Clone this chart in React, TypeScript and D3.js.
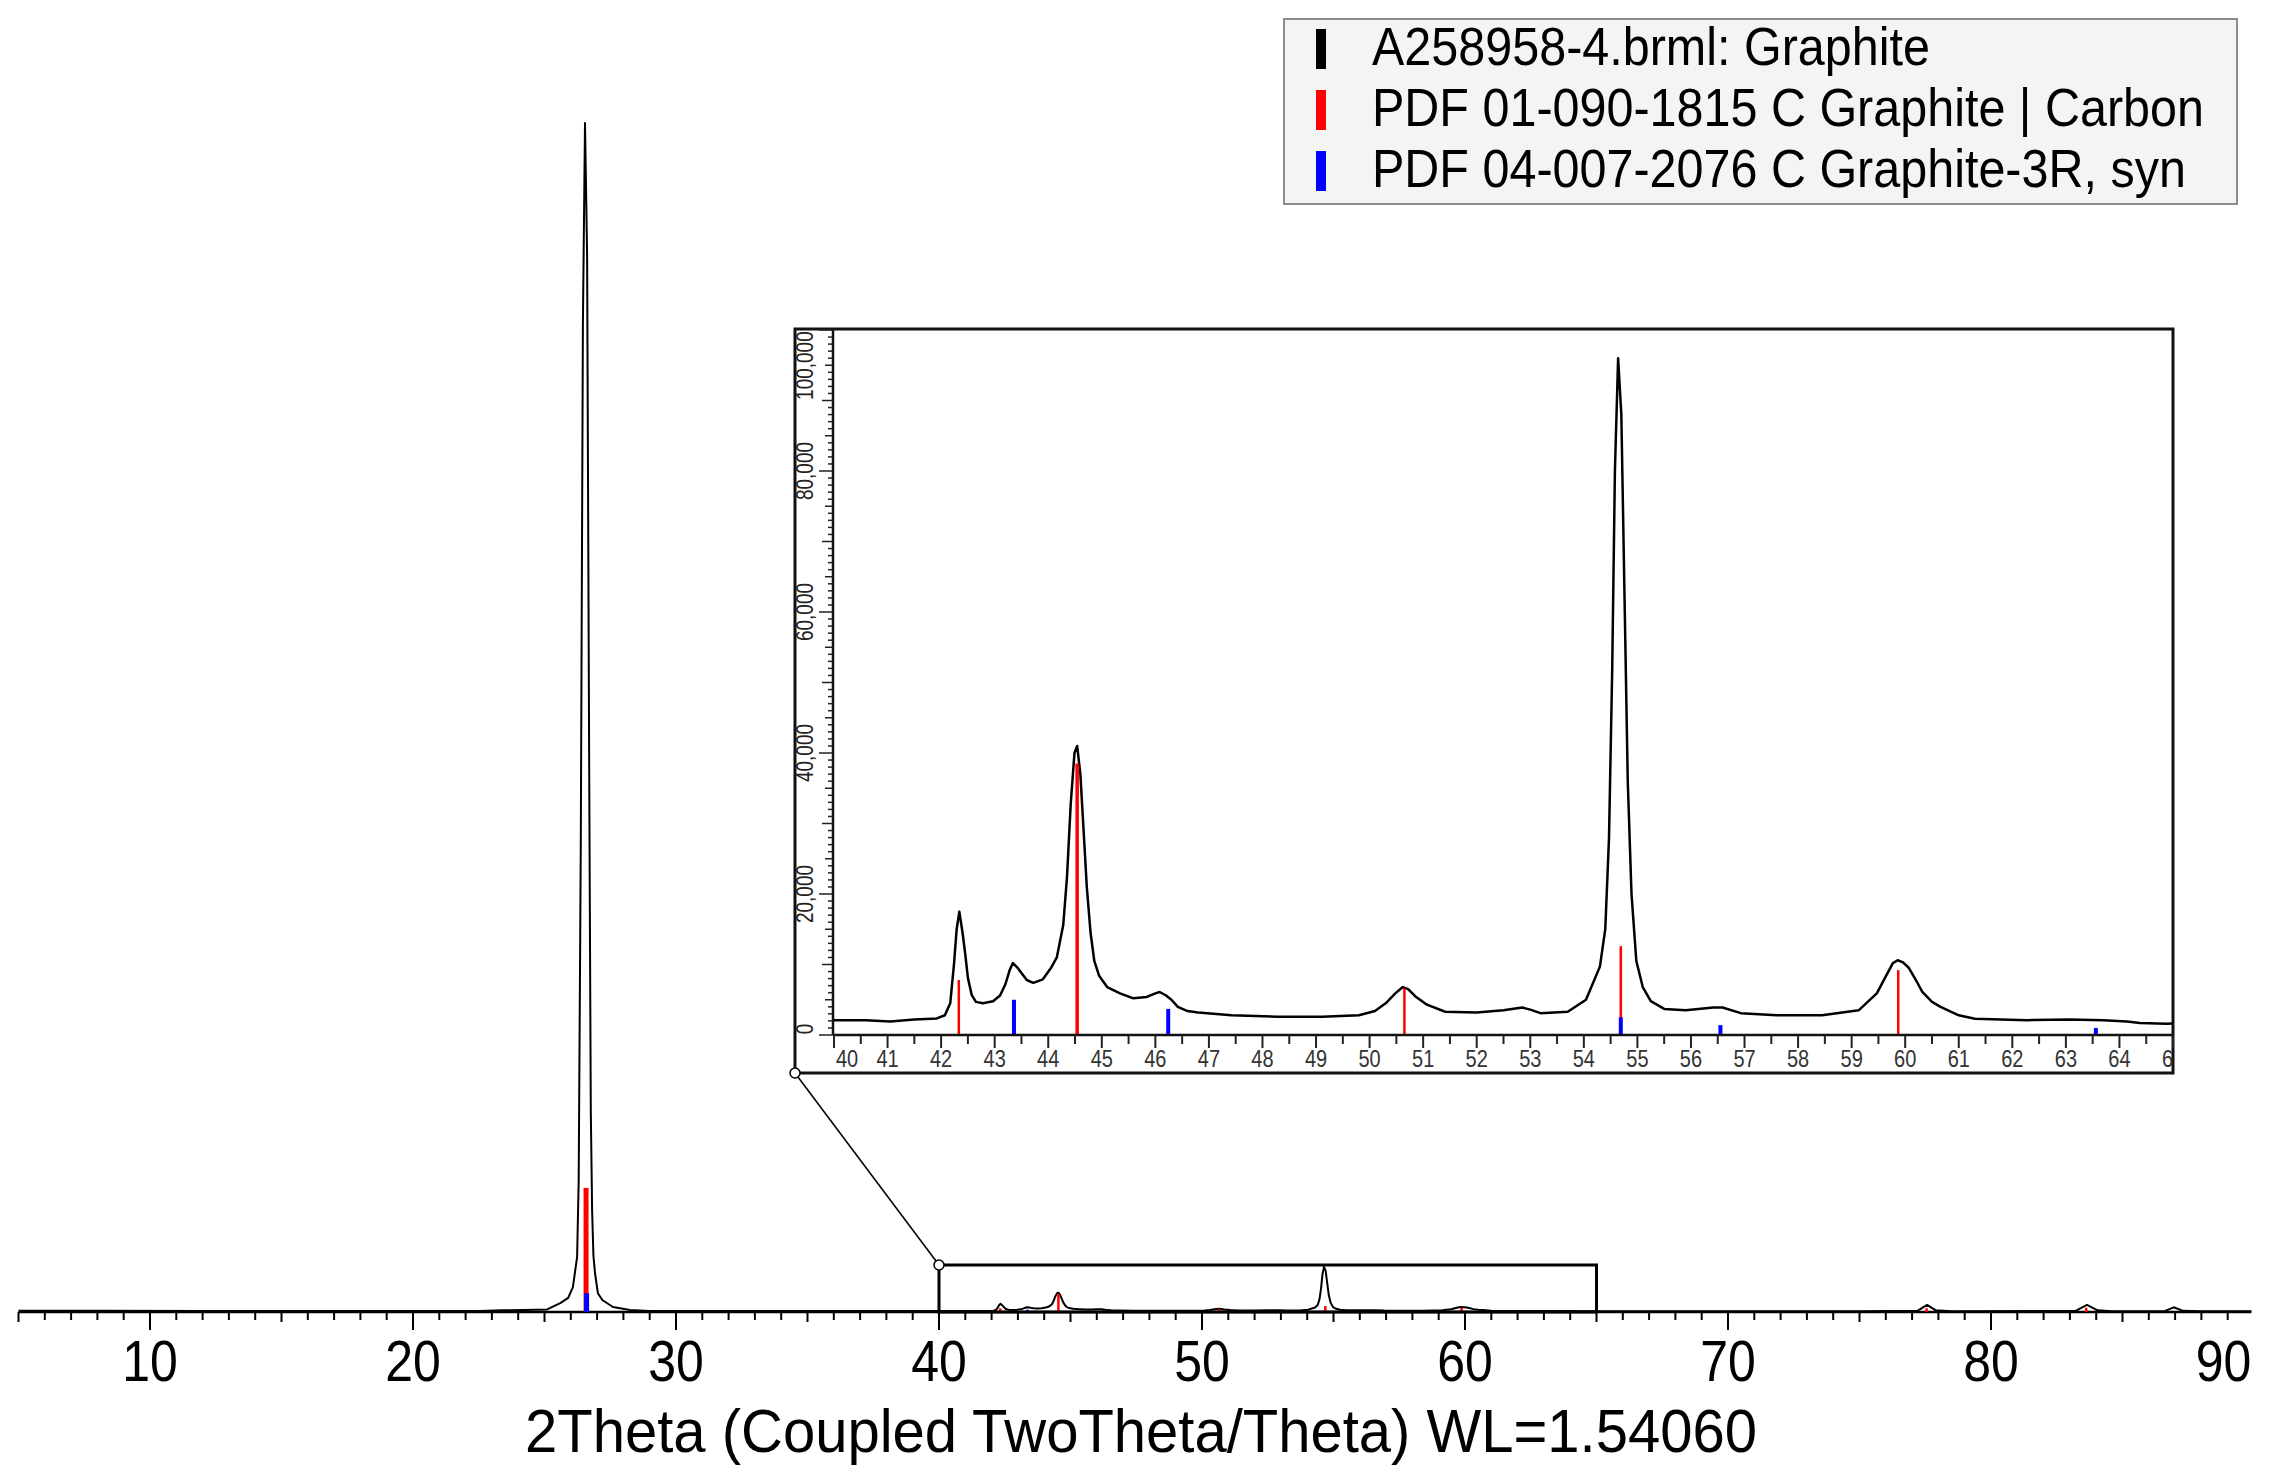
import React from 'react';
import * as d3 from 'd3';

// measured scan: 2theta (deg) and intensity (counts)
const scanTheta = [
	5.0, 8.0, 12.0, 16.0, 20.0, 22.5, 23.4, 24.2, 25.1, 25.6, 25.9, 26.08, 26.24, 26.3, 26.38, 26.46,
	26.54, 26.62, 26.7, 26.76, 26.81, 26.86, 26.92, 27.03, 27.2, 27.6, 28.25, 29.0, 32.0, 36.0, 40.0,
	40.6, 41.05, 41.5, 41.92, 42.07, 42.17, 42.24, 42.29, 42.34, 42.4, 42.45, 42.5, 42.57, 42.65, 42.78,
	42.97, 43.1, 43.2, 43.28, 43.34, 43.42, 43.5, 43.6, 43.72, 43.9, 44.05, 44.16, 44.28, 44.35, 44.42,
	44.49, 44.54, 44.6, 44.66, 44.72, 44.79, 44.86, 44.95, 45.1, 45.34, 45.59, 45.84, 46.0, 46.08, 46.2,
	46.3, 46.42, 46.6, 46.8, 47.42, 48.27, 49.12, 49.8, 50.1, 50.3, 50.48, 50.62, 50.72, 50.85, 51.07,
	51.41, 52.0, 52.5, 52.85, 53.0, 53.19, 53.7, 54.04, 54.3, 54.4, 54.47, 54.53, 54.58, 54.64, 54.7,
	54.76, 54.82, 54.89, 54.98, 55.1, 55.25, 55.5, 55.9, 56.42, 56.59, 56.93, 57.6, 58.45, 59.13, 59.47,
	59.65, 59.77, 59.86, 59.96, 60.07, 60.2, 60.32, 60.5, 60.66, 61.0, 61.3, 62.27, 63.08, 63.7, 64.14,
	64.38, 64.88, 65.5, 70.0, 75.0, 77.2, 77.57, 77.9, 78.5, 83.2, 83.65, 84.05, 84.6, 86.6, 86.95, 87.3,
	88.0, 89.9,
];
const scanCounts = [
	2600, 2400, 2200, 2000, 1900, 2000, 3500, 4200, 5500, 19000, 30000, 53000, 117000, 280000, 1000000,
	2100000, 2530000, 2250000, 1150000, 430000, 217000, 120000, 83000, 40000, 25500, 10600, 4300, 2200,
	2100, 2000, 2100, 2100, 1900, 2200, 2350, 2800, 4500, 10000, 15000, 17500, 14500, 11500, 8100, 5700,
	4700, 4500, 4800, 5600, 7200, 9200, 10200, 9600, 8800, 7800, 7400, 7900, 9500, 11000, 15600, 22400,
	32800, 40000, 41000, 37000, 29000, 21000, 14500, 10500, 8400, 6800, 5900, 5200, 5400, 5900, 6100,
	5600, 5000, 4000, 3400, 3200, 2800, 2600, 2600, 2800, 3400, 4500, 5900, 6800, 6500, 5500, 4300, 3300,
	3200, 3500, 3900, 3600, 3100, 3300, 5000, 9700, 15000, 28000, 52000, 80000, 96000, 88000, 62000,
	36000, 20000, 10500, 6800, 4800, 3700, 3500, 3900, 3900, 3100, 2800, 2800, 3500, 5900, 8500, 10200,
	10600, 10300, 9500, 7800, 6100, 4700, 4000, 2800, 2300, 2100, 2200, 2100, 1900, 1700, 1600, 1700,
	1700, 1700, 2500, 15000, 3500, 1800, 2000, 15000, 3500, 1800, 1800, 10000, 2500, 1700, 1600,
];

// reference patterns (stick positions / drawn heights)
const redTheta = [26.58, 42.33, 44.54, 50.65, 54.69, 59.87, 77.55, 83.62];
const redCounts = [264000, 7800, 38500, 6600, 12600, 9200, 8000, 9000];
const blueTheta = [26.6, 43.36, 46.24, 54.69, 56.55, 63.56];
const blueCounts = [40000, 5000, 3700, 2500, 1400, 1000];

const mainTickLabels = ['10', '20', '30', '40', '50', '60', '70', '80', '90'];
const insetXTickLabels = [
	'40', '41', '42', '43', '44', '45', '46', '47', '48', '49', '50', '51', '52',
	'53', '54', '55', '56', '57', '58', '59', '60', '61', '62', '63', '64', '65',
];
const insetYTickLabels = ['0', '20,000', '40,000', '60,000', '80,000', '100,000'];

const legendLabels = [
	'A258958-4.brml: Graphite',
	'PDF 01-090-1815 C Graphite | Carbon',
	'PDF 04-007-2076 C Graphite-3R, syn',
];
const legendColors = ['#000000', '#ff0000', '#0000ff'];

const xTitle = '2Theta (Coupled TwoTheta/Theta) WL=1.54060';

const FONT = "'Liberation Sans', Arial, sans-serif";
const W = 2274;
const H = 1475;

const xMain = d3.scaleLinear().domain([5, 90]).range([18.5, 2254]);
const yMain = d3.scaleLinear().domain([0, 2600000]).range([1312, 90]);

const frame = { left: 795, top: 329, right: 2173, bottom: 1073 };
const xIn = d3.scaleLinear().domain([40, 65]).range([834, 2173]);
const yIn = d3.scaleLinear().domain([0, 100000]).range([1035, 330]);

type Pt = { t: number; c: number };
const scan: Pt[] = scanTheta.map((t, i) => ({ t, c: scanCounts[i] }));
const reds: Pt[] = redTheta.map((t, i) => ({ t, c: redCounts[i] }));
const blues: Pt[] = blueTheta.map((t, i) => ({ t, c: blueCounts[i] }));

const Txt: React.FC<{
	x: number;
	y: number;
	size: number;
	sy?: number;
	rotate?: number;
	anchor?: string;
	fill?: string;
	children: React.ReactNode;
}> = ({ x, y, size, sy = 1, rotate = 0, anchor = 'middle', fill = '#000', children }) => (
	<text
		transform={`translate(${x},${y})${rotate ? ` rotate(${rotate})` : ''} scale(1,${sy})`}
		fontSize={size}
		fontFamily={FONT}
		textAnchor={anchor}
		fill={fill}
	>
		{children}
	</text>
);

const App: React.FC = () => {
	const mainLine = d3
		.line<Pt>()
		.x((d) => xMain(d.t))
		.y((d) => yMain(d.c))(scan) as string;
	const insetLine = d3
		.line<Pt>()
		.x((d) => xIn(d.t))
		.y((d) => yIn(d.c))(scan.filter((d) => d.t >= 36 && d.t <= 70)) as string;

	const base = yMain(0);
	const xTop = xMain.domain()[1] - 0.1;
	const mainTicks = d3.range(5, 90, 1);
	const inXTicks = d3.range(40, 65.01, 0.5);
	const inYTicks = d3.range(0, 100001, 1000);

	const boxX0 = xMain(40);
	const boxX1 = xMain(65);
	const boxY = yMain(100000);

	return (
		<svg
			width={W}
			height={H}
			viewBox={`0 0 ${W} ${H}`}
			style={{ position: 'absolute', left: 0, top: 0, background: '#fff' }}
		>
			<defs>
				<clipPath id="insetClip">
					<rect x={xIn(40)} y={frame.top} width={xIn(65) - xIn(40)} height={yIn(0) - frame.top} />
				</clipPath>
				<clipPath id="frameClip">
					<rect x={frame.left} y={frame.top} width={frame.right - frame.left} height={frame.bottom - frame.top} />
				</clipPath>
			</defs>
			<rect x={0} y={0} width={W} height={H} fill="#fff" />

			{/* main x axis */}
			<line x1={xMain(5)} x2={xMain(xTop)} y1={base} y2={base} stroke="#000" strokeWidth={2.5} />
			{mainTicks.map((v) => (
				<line
					key={`mt${v}`}
					x1={xMain(v)}
					x2={xMain(v)}
					y1={base}
					y2={base + (v % 10 === 0 ? 18 : v % 5 === 0 ? 10 : 8)}
					stroke="#000"
					strokeWidth={2}
				/>
			))}
			{mainTickLabels.map((l) => {
				const v = +l;
				const last = v >= 90;
				return (
					<Txt key={`ml${l}`} x={last ? xMain(xTop) : xMain(v)} y={1381} size={50} sy={1.14} anchor={last ? 'end' : 'middle'}>
						{l}
					</Txt>
				);
			})}
			<Txt x={1141} y={1452} size={58} sy={1.04}>
				{xTitle}
			</Txt>

			{/* main scan + sticks */}
			<path d={mainLine} fill="none" stroke="#000" strokeWidth={2} strokeLinejoin="round" />
			{reds.map((d, i) => (
				<line key={`mr${i}`} x1={xMain(d.t)} x2={xMain(d.t)} y1={base} y2={yMain(d.c)} stroke="#ff0000" strokeWidth={i === 0 ? 5 : 2.5} />
			))}
			{blues.map((d, i) => (
				<line key={`mb${i}`} x1={xMain(d.t)} x2={xMain(d.t)} y1={base} y2={yMain(d.c)} stroke="#0000ff" strokeWidth={i === 0 ? 5 : 2.5} />
			))}

			{/* zoom box and connector */}
			<rect x={boxX0} y={boxY} width={boxX1 - boxX0} height={base - boxY} fill="none" stroke="#000" strokeWidth={3} />
			<line x1={boxX0} y1={boxY} x2={frame.left} y2={frame.bottom} stroke="#000" strokeWidth={1.5} />
			<circle cx={boxX0} cy={boxY} r={5} fill="#fff" stroke="#000" strokeWidth={1.5} />

			{/* inset */}
			<rect
				x={frame.left}
				y={frame.top}
				width={frame.right - frame.left}
				height={frame.bottom - frame.top}
				fill="#fff"
				stroke="#111"
				strokeWidth={3}
			/>
			<circle cx={frame.left} cy={frame.bottom} r={5} fill="#fff" stroke="#000" strokeWidth={1.5} />
			<g clipPath="url(#insetClip)">
				<path d={insetLine} fill="none" stroke="#000" strokeWidth={2.5} strokeLinejoin="round" />
				{reds.map((d, i) => (
					<line key={`ir${i}`} x1={xIn(d.t)} x2={xIn(d.t)} y1={yIn(0)} y2={yIn(d.c)} stroke="#ff0000" strokeWidth={d.c > 30000 ? 3.5 : 2.5} />
				))}
				{blues.map((d, i) => (
					<line key={`ib${i}`} x1={xIn(d.t)} x2={xIn(d.t)} y1={yIn(0)} y2={yIn(d.c)} stroke="#0000ff" strokeWidth={4} />
				))}
			</g>
			<line x1={xIn(40) - 1} x2={xIn(40) - 1} y1={frame.top} y2={yIn(0)} stroke="#111" strokeWidth={2.5} />
			<line x1={xIn(40) - 1} x2={xIn(65)} y1={yIn(0)} y2={yIn(0)} stroke="#111" strokeWidth={2.5} />
			{inYTicks.map((v) => (
				<line
					key={`iy${v}`}
					x1={xIn(40) - 1}
					x2={xIn(40) - 1 - (v % 20000 === 0 ? 14 : v % 10000 === 0 ? 11 : v % 5000 === 0 ? 8 : 5)}
					y1={yIn(v)}
					y2={yIn(v)}
					stroke="#222"
					strokeWidth={1.5}
				/>
			))}
			{insetYTickLabels.map((l) => {
				const v = +l.replace(/,/g, '');
				const half = (l.length * 0.55 * 19) / 2;
				const cy = Math.max(frame.top + half, Math.min(yIn(0) - 6, yIn(v)));
				return (
					<Txt key={`iyl${l}`} x={813} y={cy} size={19} sy={1.22} rotate={-90} fill="#222">
						{l}
					</Txt>
				);
			})}
			{inXTicks.map((v) => (
				<line
					key={`ix${v}`}
					x1={xIn(v)}
					x2={xIn(v)}
					y1={yIn(0)}
					y2={yIn(0) + (Number.isInteger(v) ? 13 : 9)}
					stroke="#222"
					strokeWidth={2}
				/>
			))}
			<g clipPath="url(#frameClip)">
				{insetXTickLabels.map((l, i) => (
					<Txt
						key={`ixl${l}`}
						x={i === 0 ? xIn(+l) + 2 : xIn(+l)}
						y={1067}
						size={20}
						sy={1.2}
						anchor={i === 0 ? 'start' : 'middle'}
						fill="#333"
					>
						{l}
					</Txt>
				))}
			</g>

			{/* legend */}
			<rect x={1284} y={19} width={953} height={185} fill="#f4f4f4" stroke="#8c8c8c" strokeWidth={2} />
			{legendLabels.map((l, i) => {
				const cy = 48 + i * 61;
				return (
					<g key={`lg${i}`}>
						<rect x={1316} y={cy - 19} width={10} height={40} fill={legendColors[i]} />
						<Txt x={1372} y={cy + 17} size={48.5} sy={1.1} anchor="start">
							{l}
						</Txt>
					</g>
				);
			})}
		</svg>
	);
};

export default App;
